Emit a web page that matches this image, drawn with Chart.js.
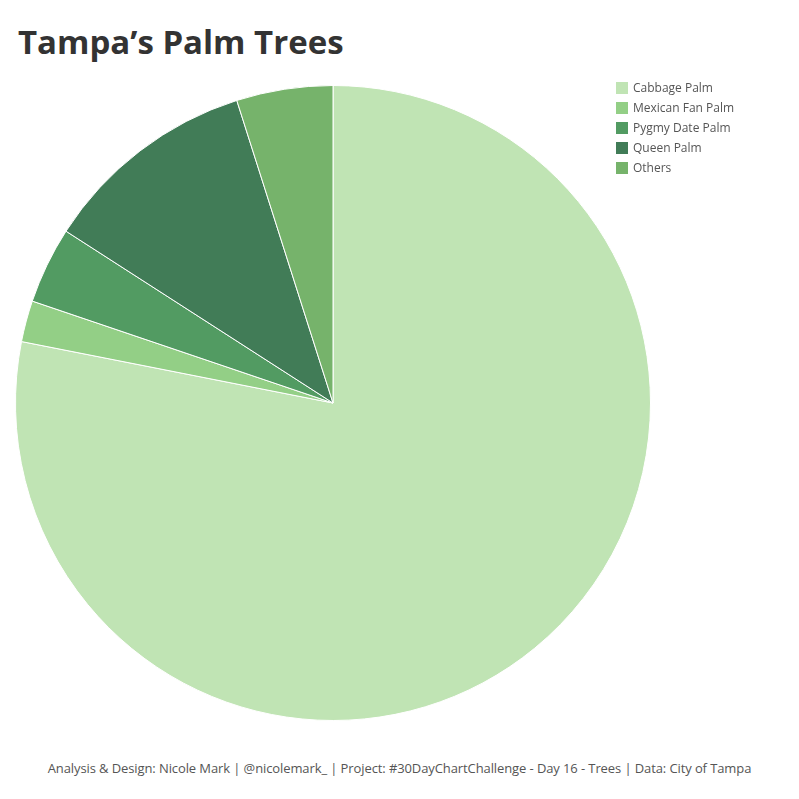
<!DOCTYPE html>
<html>
<head>
    <title>Tampa's Palm Trees</title>
    <meta charset="utf-8">
    <script src="https://cdn.jsdelivr.net/npm/chart.js"></script>
    <style>
        body {
            margin: 0;
            background: #fff;
            font-family: "Open Sans", "Noto Sans", sans-serif;
        }
        .page {
            position: relative;
            width: 799px;
            height: 799px;
            overflow: hidden;
        }
        h1 {
            position: absolute;
            left: 18px;
            top: 19px;
            margin: 0;
            font-size: 33px;
            font-weight: 700;
            color: #333;
        }
        .chart-box {
            position: absolute;
            left: 15px;
            top: 85px;
            width: 636px;
            height: 636px;
        }
        .legend {
            position: absolute;
            left: 616px;
            top: 81px;
            font-size: 12px;
            color: #555;
        }
        .legend div {
            height: 20px;
            line-height: 14px;
            display: flex;
        }
        .legend span.sw {
            width: 12px;
            height: 12px;
            margin: 1px 5px 0 0;
        }
        .footer {
            position: absolute;
            left: 0;
            width: 799px;
            top: 759px;
            text-align: center;
            font-size: 13px;
            letter-spacing: -0.1px;
            color: #555;
        }
    </style>
</head>
<body>
    <div class="page">
        <h1>Tampa’s Palm Trees</h1>
        <div class="chart-box"><canvas id="pie"></canvas></div>
        <div class="legend" id="legend"></div>
        <div class="footer">Analysis &amp; Design: Nicole Mark | @nicolemark_ | Project: #30DayChartChallenge - Day 16 - Trees | Data: City of Tampa</div>
    </div>

    <script>
        // share of palm trees (%)
        const species = ['Cabbage Palm', 'Mexican Fan Palm', 'Pygmy Date Palm', 'Queen Palm', 'Others'];
        const shares = [78.1, 2.1, 3.9, 11.0, 4.9];
        const colors = ['#c0e4b4', '#93cf86', '#529b62', '#417c57', '#76b36b'];

        new Chart(document.getElementById('pie'), {
            type: 'pie',
            data: {
                labels: species,
                datasets: [{
                    data: shares,
                    backgroundColor: colors,
                    borderColor: '#ffffff',
                    borderWidth: 1
                }]
            },
            options: {
                responsive: true,
                maintainAspectRatio: false,
                animation: false,
                layout: { padding: 0 },
                plugins: {
                    legend: { display: false },
                    tooltip: { enabled: false }
                }
            }
        });

        // legend drawn as html, same order as the data
        const legend = document.getElementById('legend');
        species.forEach((name, i) => {
            legend.innerHTML += `<div><span class="sw" style="background:${colors[i]}"></span>${name}</div>`;
        });
    </script>
</body>
</html>
